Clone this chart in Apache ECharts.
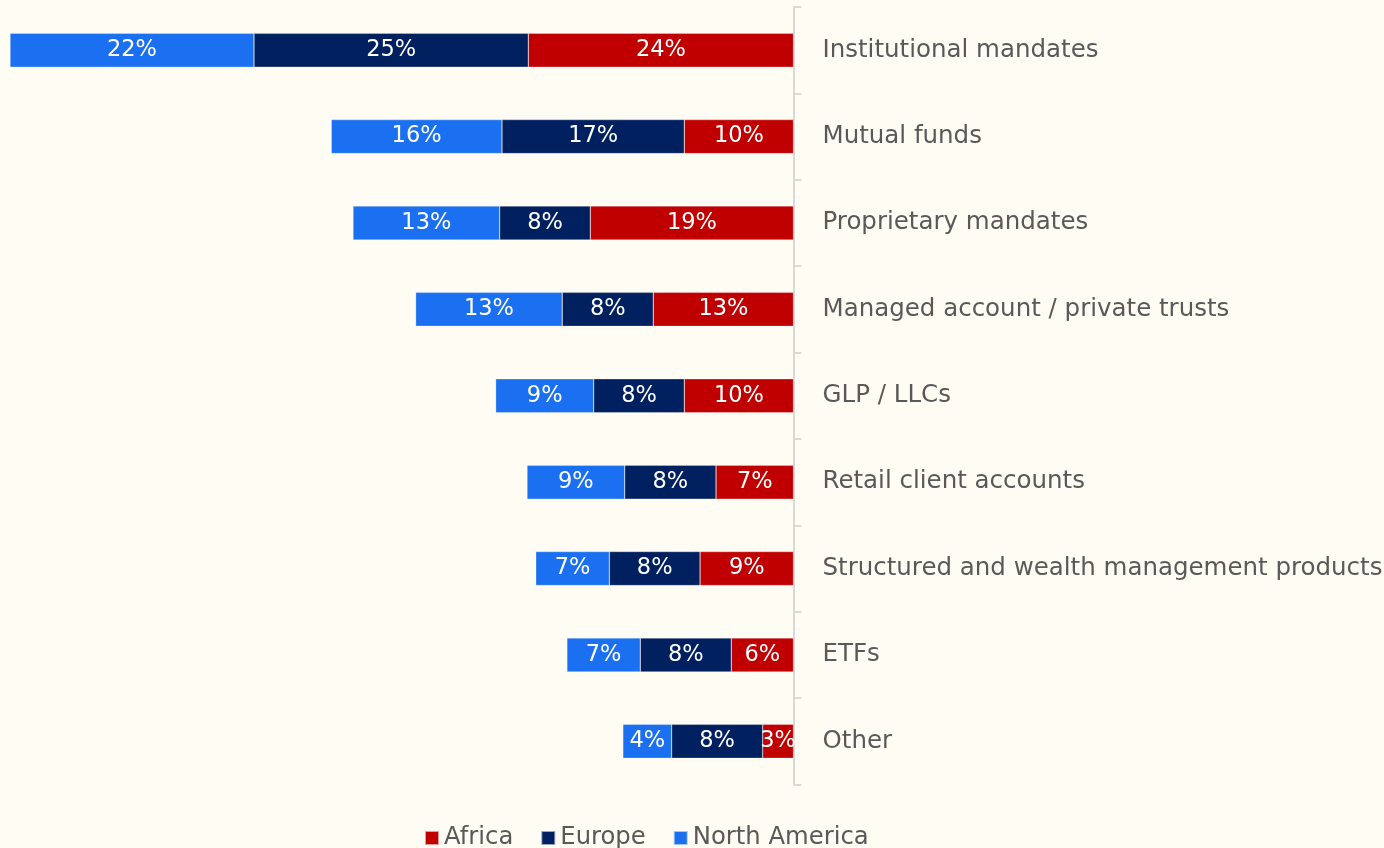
<!DOCTYPE html>
<html>
<head>
<meta charset="utf-8">
<script src="https://cdn.jsdelivr.net/npm/echarts@6/dist/echarts.min.js"></script>
<style>
  html, body { margin: 0; padding: 0; background: #FFFCF4; }
  #chart { width: 1384px; height: 848px; }
</style>
</head>
<body>
<div id="chart"></div>
<script>
// Categories top to bottom.
var categories = [
  'Institutional mandates',
  'Mutual funds',
  'Proprietary mandates',
  'Managed account / private trusts',
  'GLP / LLCs',
  'Retail client accounts',
  'Structured and wealth management products',
  'ETFs',
  'Other'
];

// Shares in percent.
var africa = [24.26, 9.99, 18.59, 12.83, 9.99, 7.09, 8.55, 5.69, 2.82];
var europe = [25.10, 16.68, 8.29, 8.33, 8.29, 8.35, 8.30, 8.33, 8.33];
var northAmerica = [22.32, 15.62, 13.42, 13.41, 8.97, 8.94, 6.73, 6.71, 4.46];

var seriesNames = ['Africa', 'Europe', 'North America'];
var seriesColors = ['#C00000', '#002060', '#1A70F0'];

var fontFamily = "'DejaVu Sans', sans-serif";

var chart = echarts.init(document.getElementById('chart'), null, {
  renderer: 'canvas',
  width: 1384,
  height: 848
});

function makeSeries(name, values, color) {
  return {
    name: name,
    type: 'bar',
    stack: 'total',
    data: values,
    barWidth: 34,
    itemStyle: {
      color: color,
      borderColor: 'rgba(255,255,255,0.6)',
      borderWidth: 0.5
    },
    label: {
      show: true,
      position: 'inside',
      color: '#ffffff',
      fontFamily: fontFamily,
      fontSize: 22.5,
      formatter: function (p) { return Math.round(p.value) + '%'; }
    }
  };
}

var option = {
  animation: false,
  backgroundColor: '#FFFCF4',
  grid: {
    left: 10,
    right: 590.5,
    top: 7,
    bottom: 63.5,
    containLabel: false,
    outerBoundsMode: 'none'
  },
  legend: {
    data: seriesNames,
    left: 424,
    top: 826,
    padding: 0,
    icon: 'rect',
    itemWidth: 14,
    itemHeight: 14,
    itemGap: 27,
    textStyle: {
      color: '#595959',
      fontFamily: fontFamily,
      fontSize: 24.3
    }
  },
  xAxis: {
    type: 'value',
    inverse: true,
    min: 0,
    max: 71.68,
    show: false
  },
  yAxis: {
    type: 'category',
    data: categories,
    inverse: true,
    position: 'right',
    axisLine: {
      show: true,
      lineStyle: { color: '#D9D9D9', width: 2 }
    },
    axisTick: {
      show: true,
      length: 8,
      lineStyle: { color: '#D9D9D9', width: 2 }
    },
    axisLabel: {
      margin: 29,
      color: '#595959',
      fontFamily: fontFamily,
      fontSize: 24.5
    },
    splitLine: { show: false }
  },
  series: [
    makeSeries(seriesNames[0], africa, seriesColors[0]),
    makeSeries(seriesNames[1], europe, seriesColors[1]),
    makeSeries(seriesNames[2], northAmerica, seriesColors[2])
  ]
};

chart.setOption(option);
</script>
</body>
</html>
